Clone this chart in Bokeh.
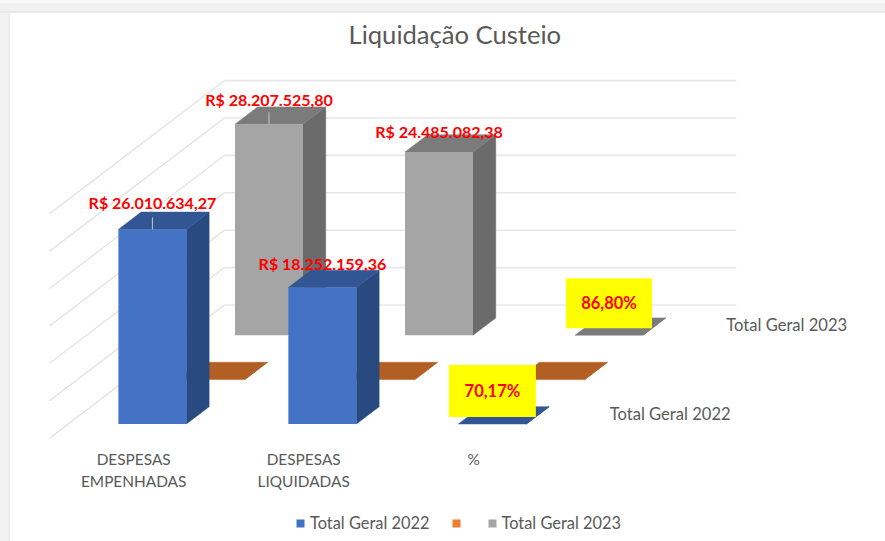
from bokeh.embed import file_html
from bokeh.resources import INLINE
from bokeh.plotting import figure
from bokeh.models import Range1d, Legend, LegendItem
from bokeh.core.properties import value

# ---- data ----
categories = [["DESPESAS", "EMPENHADAS"], ["DESPESAS", "LIQUIDADAS"], ["%"]]
series_names = ["Total Geral 2022", "", "Total Geral 2023"]
values_2022 = [26010634.27, 18252159.36, 0.7017]
values_blank = [0, 0, 0]
values_2023 = [28207525.80, 24485082.38, 0.8680]
labels_2022 = ["R$ 26.010.634,27", "R$ 18.252.159,36", "70,17%"]
labels_2023 = ["R$ 28.207.525,80", "R$ 24.485.082,38", "86,80%"]
grid_values = [0, 5e6, 10e6, 15e6, 20e6, 25e6, 30e6]
title_text = "Liquidação Custeio"

# ---- oblique projection: x in categories, y in reais, depth in series ----
PX_PER_CAT = 170.0
PX_PER_REAL = 7.48e-6
DX = 58.3 / PX_PER_CAT       # category units per depth unit
DY = 44.4 / PX_PER_REAL      # reais per depth unit
BAR_LEFT, BAR_W = 0.2955, 0.4
BAR_D0, BAR_D = 0.32, 0.39
FLOOR_W = 512 / PX_PER_CAT
X0_PX, Y0_PX = 49.0, 437.7   # page position of the front-left floor corner
W, H = 885, 541
FRAME_TOP = 60


def proj(x, val, depth):
    return x + depth * DX, val + depth * DY


def face(points):
    pts = [proj(*q) for q in points]
    return [q[0] for q in pts], [q[1] for q in pts]


def bar_faces(cat, val, s):
    l, r = cat + BAR_LEFT, cat + BAR_LEFT + BAR_W
    d0, d1 = s + BAR_D0, s + BAR_D0 + BAR_D
    front = face([(l, 0, d0), (r, 0, d0), (r, val, d0), (l, val, d0)])
    side = face([(r, 0, d0), (r, 0, d1), (r, val, d1), (r, val, d0)])
    top = face([(l, val, d0), (r, val, d0), (r, val, d1), (l, val, d1)])
    return front, side, top


p = figure(
    width=W, height=H, output_backend="svg", toolbar_location=None,
    x_range=Range1d(-X0_PX / PX_PER_CAT, (W - X0_PX) / PX_PER_CAT),
    y_range=Range1d((Y0_PX - H) / PX_PER_REAL, (Y0_PX - FRAME_TOP) / PX_PER_REAL),
    min_border=0, min_border_top=FRAME_TOP, min_border_left=0,
    min_border_right=0, min_border_bottom=0,
    title=title_text,
)
p.border_fill_color = None
p.background_fill_color = None
p.outline_line_color = None
p.axis.visible = False
p.grid.visible = False
p.title.text_font = "Lato"
p.title.text_font_size = "25.6px"
p.title.text_font_style = "normal"
p.title.text_color = "#595959"
p.title.align = "left"
p.title.offset = 348
p.title.standoff = 24

# sheet surround: strip along the top and the left of the page
p.styles = {"background": (
    "linear-gradient(to bottom,#f8f8f8 0,#f8f8f8 3px,#f1f1f1 3px,#f1f1f1 11px,#e8e8e8 11px,#e8e8e8 13px,transparent 13px) no-repeat,"
    "linear-gradient(to right,#f2f2f2 0,#f2f2f2 8px,#ebebeb 8px,#ebebeb 10px,transparent 10px) no-repeat,#ffffff")}

# gridlines: back wall and side wall
wall_x, wall_y, side_x, side_y = [], [], [], []
for g in grid_values:
    a = proj(0, g, 3)
    b = proj(FLOOR_W, g, 3)
    c = proj(0, g, 0)
    wall_x.append([a[0], b[0]])
    wall_y.append([a[1], b[1]])
    side_x.append([c[0], a[0]])
    side_y.append([c[1], a[1]])
p.multi_line(wall_x, wall_y, line_color="#e8e8e8", line_width=1.6)
p.multi_line(side_x, side_y, line_color="#dedede", line_width=1.1)

series = [
    (2, values_2023, "#a5a5a5", "#7b7b7b", "#6b6b6b"),
    (1, values_blank, "#ed7d31", "#b25f24", "#a05520"),
    (0, values_2022, "#4472c4", "#325694", "#294a80"),
]
legend_renderers = {}
for s, vals, c_front, c_top, c_side in series:
    faces = [bar_faces(i, v, s) for i, v in enumerate(vals)]
    p.patches([f[1][0] for f in faces], [f[1][1] for f in faces], fill_color=c_side, line_color=c_side, line_width=0.5)
    p.patches([f[2][0] for f in faces], [f[2][1] for f in faces], fill_color=c_top, line_color=c_top, line_width=0.5)
    legend_renderers[s] = p.patches([f[0][0] for f in faces], [f[0][1] for f in faces], fill_color=c_front, line_color=None)

# leader lines on the first category
for s, vals in ((2, values_2023), (0, values_2022)):
    cx = BAR_LEFT + BAR_W / 2
    a = proj(cx, vals[0], s + BAR_D0)
    p.line([a[0], a[0]], [a[1], a[1] + 12 / PX_PER_REAL], line_color="#c8c8c8", line_width=1)

# category labels (one text per line)
cat_x, cat_y, cat_t, cat_dy = [], [], [], []
for i, lines in enumerate(categories):
    for j, t in enumerate(lines):
        cat_x.append(i + 0.495)
        cat_y.append(0)
        cat_t.append(t)
        cat_dy.append(21 + j * 22)
p.text(cat_x, cat_y, text=cat_t, y_offset=cat_dy, text_font=value("Lato"), text_font_size="15.4px",
       text_color="#595959", text_align="center", text_baseline="middle")

# series (depth axis) labels
ser_x, ser_y, ser_t = [], [], []
for s, t in enumerate(series_names):
    if t:
        a = proj(FLOOR_W, 0, s + 0.5)
        ser_x.append(a[0])
        ser_y.append(a[1])
        ser_t.append(t)
p.text(ser_x, ser_y, text=ser_t, x_offset=[19, 19], y_offset=[-2, -2], text_font=value("Lato"), text_font_size="16.6px",
       text_color="#595959", text_align="left", text_baseline="middle")

# money labels
lx, ly, lt, ldy = [], [], [], []
for s, vals, labels, offs in ((2, values_2023, labels_2023, [-25, -21]), (0, values_2022, labels_2022, [-27, -24])):
    for i in range(2):
        a = proj(i + BAR_LEFT + BAR_W / 2, vals[i], s + BAR_D0)
        lx.append(a[0]); ly.append(a[1]); lt.append(labels[i]); ldy.append(offs[i])
p.text(lx, ly, text=lt, y_offset=ldy, text_font=value("Lato"), text_font_size="16px", text_font_style="bold",
       text_color="#ff0000", text_align="center", text_baseline="middle")

# percent labels in yellow boxes
px, py, pt, pdy = [], [], [], []
for s, vals, labels, dy in ((2, values_2023, labels_2023, -32), (0, values_2022, labels_2022, -33)):
    a = proj(2 + BAR_LEFT + BAR_W / 2, vals[2], s + BAR_D0)
    px.append(a[0]); py.append(a[1]); pt.append(labels[2]); pdy.append(dy)
box_y = [py[i] - pdy[i] / PX_PER_REAL for i in range(2)]
p.rect(px, box_y, width=[86, 87], height=[50, 52], width_units="screen", height_units="screen",
       fill_color="#ffff00", line_color=None)
p.text(px, box_y, text=pt, text_font=value("Lato"), text_font_size="16.5px", text_font_style="bold",
       text_color="#ff0000", text_align="center", text_baseline="middle")

legend = Legend(
    items=[LegendItem(label=value(series_names[0]), renderers=[legend_renderers[0]]),
           LegendItem(label=value(""), renderers=[legend_renderers[1]]),
           LegendItem(label=value(series_names[2]), renderers=[legend_renderers[2]])],
    orientation="horizontal", location=(295, 9), padding=0, margin=0, spacing=21,
    glyph_width=10, glyph_height=10, label_standoff=5, label_height=12, label_width=0, label_text_font="Lato",
    label_text_font_size="16.4px", label_text_color="#595959", border_line_color=None,
    background_fill_color=None, background_fill_alpha=0,
)
p.add_layout(legend, "center")

open("out.html", "w").write(file_html(p, INLINE))
